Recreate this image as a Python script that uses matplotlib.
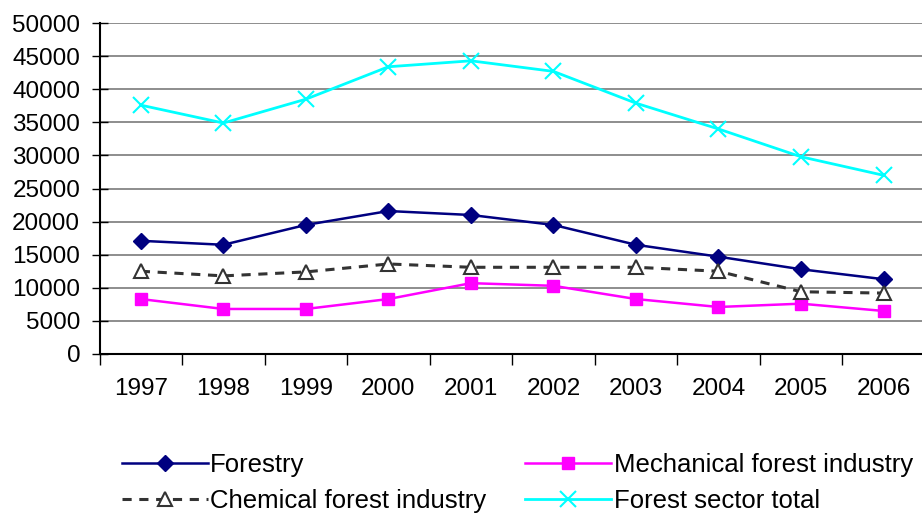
import matplotlib.pyplot as plt
from matplotlib.ticker import FixedLocator
import numpy as np

plt.rcParams['font.family'] = ['Liberation Sans', 'DejaVu Sans']

# Data
years = ['1997', '1998', '1999', '2000', '2001', '2002', '2003', '2004', '2005', '2006']
forestry = [17100, 16500, 19500, 21600, 21000, 19500, 16500, 14700, 12800, 11300]
mechanical = [8300, 6800, 6800, 8300, 10700, 10300, 8300, 7100, 7600, 6500]
chemical = [12500, 11800, 12400, 13600, 13100, 13100, 13100, 12500, 9400, 9200]
sector_total = [37600, 34900, 38500, 43400, 44300, 42700, 37900, 34000, 29800, 27000]

x = np.arange(len(years))

fig = plt.figure(figsize=(9.22, 5.13), dpi=100)
ax = fig.add_axes([0.108, 0.31, 0.895, 0.645])

l1, = ax.plot(x, forestry, color='#000080', marker='D', markersize=8, linewidth=1.8,
              label='Forestry')
l2, = ax.plot(x, mechanical, color='#FF00FF', marker='s', markersize=9, linewidth=1.8,
              label='Mechanical forest industry')
l3, = ax.plot(x, chemical, color='#333333', marker='^', markersize=10, markerfacecolor='white',
              markeredgecolor='#333333', markeredgewidth=1.5, linewidth=2.2,
              linestyle=(0, (3, 2.5)), label='Chemical forest industry')
l4, = ax.plot(x, sector_total, color='#00FFFF', marker='x', markersize=11, markeredgewidth=1.5,
              linewidth=2, label='Forest sector total')

ax.set_xlim(-0.5, len(years) - 0.5)
ax.set_ylim(0, 50000)
ax.set_yticks(np.arange(0, 50001, 5000))
ax.tick_params(axis='y', labelsize=17.5, direction='inout', length=12, width=1, pad=8)
ax.set_xticks(x)
ax.set_xticklabels(years)
ax.xaxis.set_minor_locator(FixedLocator(np.arange(-0.5, len(years), 1)))
ax.tick_params(axis='x', which='major', length=0, labelsize=17.5, pad=17)
ax.tick_params(axis='x', which='minor', direction='out', length=8, width=1)

ax.grid(axis='y', color='#7a7a7a', linewidth=1.2)
ax.set_axisbelow(True)
for s in ['top', 'right']:
    ax.spines[s].set_visible(False)
ax.spines['left'].set_linewidth(1.5)
ax.spines['bottom'].set_linewidth(1.5)

fig.legend(handles=[l1, l3, l2, l4], loc='lower left', bbox_to_anchor=(0.132, 0.0),
           ncol=2, frameon=False, fontsize=18.5, handlelength=3.35, handletextpad=0.1,
           columnspacing=1.5, labelspacing=0.45, borderpad=0, borderaxespad=0)

plt.savefig('out.png', dpi=100)
